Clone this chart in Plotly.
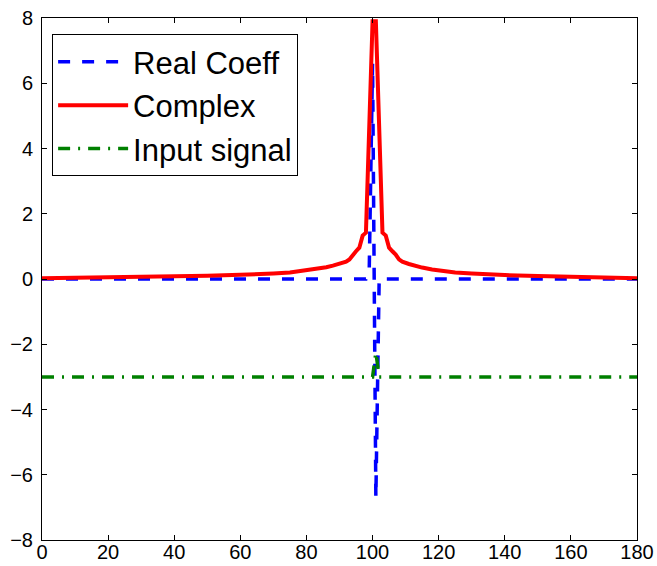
import plotly.graph_objects as go

# Real Coeff (blue dashed)
real_x = [0, 98, 99, 100, 101, 102, 180]
real_y = [0.0, 0.0, 0.3, 6.6, -6.7, 0.0, 0.0]

# Complex magnitude (red solid)
cplx_x = [0, 10, 20, 30, 40, 50, 60, 65, 70, 75, 80, 83, 86, 88, 90, 92, 93, 94, 95, 96, 97, 98, 99,
          100, 101, 102, 103, 104, 105, 106, 107, 108, 109, 111, 113, 115, 118, 121, 125, 130, 135,
          140, 150, 160, 170, 180]
cplx_y = [0.02, 0.03, 0.05, 0.06, 0.08, 0.10, 0.13, 0.14, 0.17, 0.20, 0.26, 0.30, 0.36, 0.41, 0.46,
          0.53, 0.60, 0.75, 0.85, 0.96, 1.33, 1.42, 4.65, 7.9, 7.9, 4.65, 1.42, 1.33, 0.96, 0.85, 0.75,
          0.60, 0.53, 0.46, 0.40, 0.35, 0.29, 0.24, 0.20, 0.17, 0.14, 0.12, 0.09, 0.06, 0.04, 0.02]

# Input signal (green dash-dot)
inp_x = [0, 100, 101, 102, 180]
inp_y = [-3.0, -3.0, -2.25, -3.0, -3.0]

x_ticks = [0, 20, 40, 60, 80, 100, 120, 140, 160, 180]
y_ticks = [-8, -6, -4, -2, 0, 2, 4, 6, 8]

fig = go.Figure()
fig.add_trace(go.Scatter(x=real_x, y=real_y, mode="lines", name="Real Coeff",
                         line=dict(color="#0000FF", width=3.5, dash="12px,12px")))
fig.add_trace(go.Scatter(x=cplx_x, y=cplx_y, mode="lines", name="Complex",
                         line=dict(color="#FF0000", width=4)))
fig.add_trace(go.Scatter(x=inp_x, y=inp_y, mode="lines", name="Input signal",
                         line=dict(color="#008000", width=3.5, dash="12px,8px,2px,8px")))

axis_common = dict(showline=True, linecolor="black", linewidth=1, mirror="ticks",
                   ticks="inside", ticklen=5, tickcolor="black", showgrid=False,
                   zeroline=False, automargin=False,
                   tickfont=dict(family="Liberation Sans, Arial", size=20, color="black"))

fig.update_xaxes(range=[0, 180], tickvals=x_ticks, ticklabelstandoff=-6, **axis_common)
fig.update_yaxes(range=[-8, 8], tickvals=y_ticks, ticklabelstandoff=4, **axis_common)

fig.update_layout(
    width=657, height=566,
    margin=dict(l=42, r=20, t=18, b=26),
    plot_bgcolor="white", paper_bgcolor="white",
    font=dict(family="Liberation Sans, Arial", color="black"),
    legend=dict(x=0.017, y=0.969, xanchor="left", yanchor="top",
                bordercolor="black", borderwidth=1, bgcolor="white",
                font=dict(size=31, family="Liberation Sans, Arial", color="black"),
                itemwidth=70, tracegroupgap=0),
    showlegend=True,
)

fig.write_html("out.html", config={"displayModeBar": False},
               post_script="document.body.style.margin='0';document.body.style.overflow='hidden';")
